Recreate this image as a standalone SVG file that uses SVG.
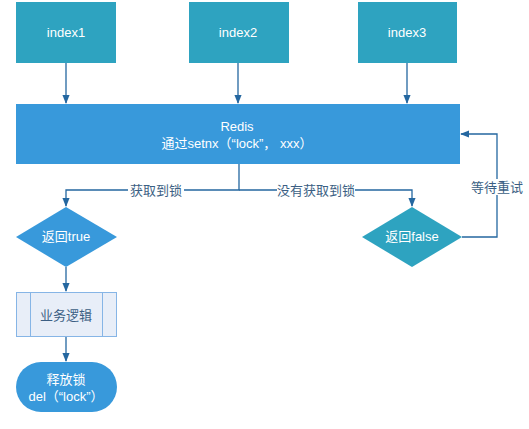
<svg xmlns="http://www.w3.org/2000/svg" width="529" height="429" viewBox="0 0 529 429">
<defs>
<marker id="ah" viewBox="0 0 10 10" refX="9" refY="5" markerWidth="9" markerHeight="9" markerUnits="userSpaceOnUse" orient="auto"><path d="M0,1 L10,5 L0,9 z" fill="#2467a0"/></marker>
<style>
.t{font-family:"Liberation Sans","Noto Sans CJK SC",sans-serif;font-size:13px;fill:#fff;text-anchor:middle;dominant-baseline:central}
.l{font-family:"Liberation Sans","Noto Sans CJK SC",sans-serif;font-size:13px;fill:#3c5f84;text-anchor:middle;dominant-baseline:central}
.c{fill:none;stroke:#2467a0;stroke-width:1.3;marker-end:url(#ah)}
.teal{fill:#2ea3c0}
.blue{fill:#3899db}
</style>
</defs>
<g id="connectors">
<path class="c" d="M66,63 V103"/>
<path class="c" d="M238,63 V103"/>
<path class="c" d="M407,63 V103"/>
<path class="c" d="M239,164 V190 H66 V206"/>
<path class="c" d="M239,190 H412 V206"/>
<path class="c" d="M462,237 H497 V134 H461"/>
<path class="c" d="M66,267 V291"/>
<path class="c" d="M66,336 V361"/>
<rect x="128" y="182" width="56" height="16" fill="#fff"/>
<text class="l" x="156" y="190">获取到锁</text>
<rect x="277" y="182" width="78" height="16" fill="#fff"/>
<text class="l" x="316" y="190">没有获取到锁</text>
<rect x="469" y="179" width="56" height="16" fill="#fff"/>
<text class="l" x="497" y="187">等待重试</text>
</g>
<g id="index1"><rect class="teal" x="16" y="2" width="100" height="61"/><text class="t" x="66" y="32">index1</text></g>
<g id="index2"><rect class="teal" x="189" y="2" width="100" height="61"/><text class="t" x="238" y="32">index2</text></g>
<g id="index3"><rect class="teal" x="358" y="2" width="99" height="61"/><text class="t" x="407" y="32">index3</text></g>
<g id="redis"><rect class="blue" x="16" y="104" width="444" height="60"/><text class="t" x="237" y="126">Redis</text><text class="t" x="237" y="143">通过setnx（“lock”， xxx）</text></g>
<g id="true"><path class="blue" d="M66,207 L117,237 L66,267 L16,237 z"/><text class="t" x="66" y="236">返回true</text></g>
<g id="false"><path class="teal" d="M412,207 L462,237 L412,267 L362,237 z"/><text class="t" x="412" y="236">返回false</text></g>
<g id="logic"><rect x="16.5" y="292.5" width="100" height="44" fill="#e8eef8" stroke="#86b5e6"/><path d="M30.5,292.5 V336.5 M102.5,292.5 V336.5" stroke="#86b5e6" fill="none"/><text class="l" x="66" y="315">业务逻辑</text></g>
<g id="release"><rect class="blue" x="16" y="362" width="101" height="50" rx="25"/><text class="t" x="66" y="379">释放锁</text><text class="t" x="66" y="396">del（“lock”）</text></g>
</svg>
